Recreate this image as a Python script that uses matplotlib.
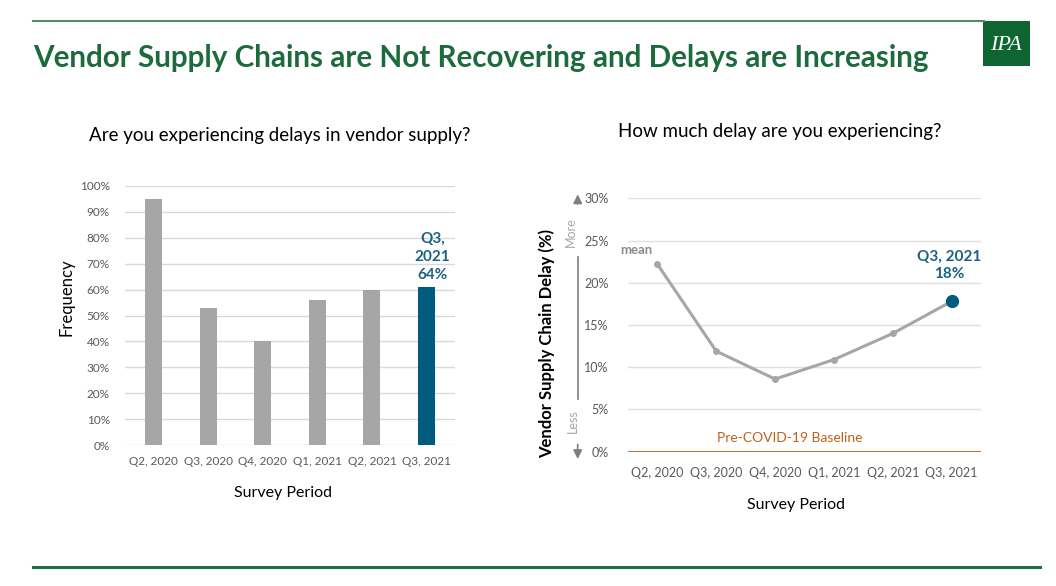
import numpy as np
import matplotlib
matplotlib.use('Agg')
import matplotlib.pyplot as plt
from matplotlib.lines import Line2D
from matplotlib.patches import Rectangle
from matplotlib.ticker import PercentFormatter

plt.rcParams['font.family'] = ['Lato', 'DejaVu Sans']

# data
periods = ['Q2, 2020', 'Q3, 2020', 'Q4, 2020', 'Q1, 2021', 'Q2, 2021', 'Q3, 2021']
delay_freq = [95, 53, 40, 56, 60, 61]      # % experiencing delays
delay_amount = [22.2, 11.9, 8.6, 10.9, 14.0, 17.8]  # mean delay %

W, H = 1056, 586
GREEN = '#1c6b3c'
TEAL = '#005b7f'
GRAY = '#a6a6a6'
TICK = '#595959'
ORANGE = '#c0601c'


def fx(px):
    return px / W


def fy(py):
    return 1 - py / H


fig = plt.figure(figsize=(W / 100, H / 100), dpi=100)

# header / footer decoration
fig.add_artist(Line2D([fx(33), fx(984)], [fy(21), fy(21)], color='#4c8f66', lw=1.5))
fig.add_artist(Line2D([fx(33), fx(1040)], [fy(567), fy(567)], color='#1f6e40', lw=2.2))
fig.add_artist(Rectangle((fx(983), fy(66)), fx(47), 45 / H, color='#0e6532', lw=0))
fig.text(fx(1006), fy(45), 'IPA', color='white', fontsize=16, style='italic',
         family='Liberation Serif', ha='center', va='center')
fig.text(fx(33), fy(58), 'Vendor Supply Chains are Not Recovering and Delays are Increasing',
         color=GREEN, fontsize=21.3, fontweight='bold', ha='left', va='center')

# ---- left: bar chart ----
ax1 = fig.add_axes([fx(125), fy(445), 330 / W, 259 / H])
colors = [GRAY] * (len(periods) - 1) + [TEAL]
x = np.arange(len(periods))
ax1.bar(x, delay_freq, width=0.31, color=colors, zorder=3)
ax1.set_xlim(-0.52, 5.52)
ax1.set_ylim(0, 100)
ax1.set_yticks(np.arange(0, 101, 10))
ax1.yaxis.set_major_formatter(PercentFormatter(decimals=0))
ax1.set_xticks(x)
ax1.set_xticklabels(periods)
ax1.grid(axis='y', color='#d9d9d9', lw=1, zorder=0)
for s in ax1.spines.values():
    s.set_visible(False)
ax1.tick_params(length=0, colors=TICK, labelsize=8.5)
ax1.tick_params(axis='y', pad=11)
ax1.tick_params(axis='x', pad=8)
ax1.annotate('Q3,\n2021\n64%', (x[-1], delay_freq[-1]), xytext=(6, 30),
             textcoords='offset pixels', ha='center', va='center', color='#1b6282',
             fontsize=11, fontweight='bold', linespacing=1.35)
fig.text(fx(67), fy(297), 'Frequency', rotation=90, fontsize=12, ha='center', va='center')
fig.text(fx(283), fy(493), 'Survey Period', fontsize=11.5, ha='center', va='center')
fig.text(fx(280), fy(135), 'Are you experiencing delays in vendor supply?', fontsize=13.5,
         ha='center', va='center')

# ---- right: line chart ----
ax2 = fig.add_axes([fx(628), fy(451.7), 353 / W, 253.4 / H])
ax2.plot(x, delay_amount, color=GRAY, lw=2.2, marker='o', ms=4, zorder=3)
ax2.plot(x[-1], delay_amount[-1], 'o', color=TEAL, ms=8.5, zorder=4)
ax2.axhline(0, color=ORANGE, lw=2, zorder=2)
ax2.set_xlim(-0.5, 5.5)
ax2.set_ylim(0, 30)
ax2.set_yticks(np.arange(0, 31, 5))
ax2.yaxis.set_major_formatter(PercentFormatter(decimals=0))
ax2.set_xticks(x)
ax2.set_xticklabels(periods)
ax2.grid(axis='y', color='#e0e0e0', lw=1, zorder=0)
for s in ax2.spines.values():
    s.set_visible(False)
ax2.tick_params(length=0, colors=TICK, labelsize=9)
ax2.tick_params(axis='y', pad=14)
ax2.tick_params(axis='x', pad=11)
ax2.annotate('mean', (x[0], delay_amount[0]), xytext=(-21, 14), textcoords='offset pixels',
             ha='center', va='center', color='#8c8c8c', fontsize=9.5, fontweight='bold')
ax2.annotate('Q3, 2021\n18%', (x[-1], delay_amount[-1]), xytext=(-2, 36),
             textcoords='offset pixels', ha='center', va='center', color='#1b6282',
             fontsize=11, fontweight='bold', linespacing=1.3,
             bbox=dict(facecolor='white', edgecolor='none', pad=1))
ax2.text(2.25, 1.6, 'Pre-COVID-19 Baseline', color=ORANGE, fontsize=10,
         ha='center', va='center')

# more / less arrow next to the y axis
tr = ax2.get_yaxis_transform()
ax_x = (577.7 - 628) / 353
ax2.annotate('', xy=(ax_x, 30.8), xytext=(ax_x, 29.0), xycoords=tr, textcoords=tr,
             arrowprops=dict(arrowstyle='-|>', color='#7f7f7f', lw=1.2, mutation_scale=13),
             annotation_clip=False)
ax2.annotate('', xy=(ax_x, -1.2), xytext=(ax_x, 1.2), xycoords=tr, textcoords=tr,
             arrowprops=dict(arrowstyle='-|>', color='#7f7f7f', lw=1.2, mutation_scale=13),
             annotation_clip=False)
ax2.add_line(Line2D([ax_x, ax_x], [6.24, 23.05], transform=tr, color='#7f7f7f', lw=1.2,
                    clip_on=False))
ax2.text((570.7 - 628) / 353, 26, 'More', transform=tr, rotation=90, color=GRAY,
         fontsize=9, ha='center', va='center')
ax2.text((573 - 628) / 353, 3.6, 'Less', transform=tr, rotation=90, color=GRAY,
         fontsize=9, ha='center', va='center')

fig.text(fx(547), fy(343), 'Vendor Supply Chain Delay (%)', rotation=90, fontsize=12,
         fontweight='bold', ha='center', va='center')
fig.text(fx(796), fy(505), 'Survey Period', fontsize=11.5, ha='center', va='center')
fig.text(fx(780), fy(132), 'How much delay are you experiencing?', fontsize=13.5,
         ha='center', va='center')

fig.savefig('out.png', dpi=100)
